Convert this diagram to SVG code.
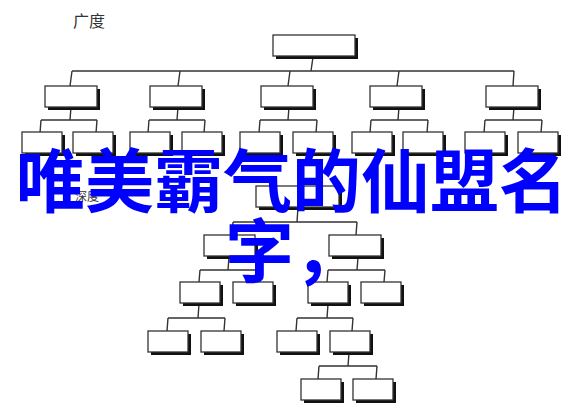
<svg xmlns="http://www.w3.org/2000/svg" width="585" height="411" viewBox="0 0 585 411">
<style>
.sh{fill:#111}
.bx{fill:#fff;stroke:#333;stroke-width:1.3}
.cn path{fill:none;stroke:#333;stroke-width:1.4}
.lbl{font-family:"Noto Sans CJK SC","Noto Sans",sans-serif;fill:#333}
.big{font-family:"Noto Sans CJK SC","Noto Sans",sans-serif;font-weight:bold;font-size:69px;fill:#0000ff}
</style>
<rect width="585" height="411" fill="#fff"/>
<text class="lbl" x="73" y="27" font-size="16">广度</text>
<g class="cn" id="connectors">
<path d="M313 57 L311 71 M72 71 H514 M72 71 L70 86 M180 71 L178 86 M290 71 L288 86 M399 71 L397 86 M514 71 L513 86"/>
<path d="M71 107 L70 120 M41 120 H97 M41 120 L40 133 M97 120 L96 133"/>
<path d="M178 107 L177 120 M149 120 H205 M149 120 L148 133 M205 120 L204 133"/>
<path d="M289 107 L288 120 M260 120 H317 M260 120 L259 133 M317 120 L316 133"/>
<path d="M399 107 L398 120 M371 120 H428 M371 120 L370 133 M428 120 L427 133"/>
<path d="M514 107 L513 120 M485 120 H542 M485 120 L484 133 M542 120 L541 133"/>
<path d="M298 207 L297 222 M233 222 H357 M233 222 L232 235 M357 222 L356 235"/>
<path d="M229 257 L228 270 M200 270 H257 M200 270 L199 282 M257 270 L256 282"/>
<path d="M358 257 L357 270 M328 270 H385 M328 270 L327 282 M385 270 L384 282"/>
<path d="M199 304 L198 318 M168 318 H225 M168 318 L167 331 M225 318 L224 331"/>
<path d="M328 304 L327 318 M297 318 H353 M297 318 L296 331 M353 318 L352 331"/>
<path d="M349 353 L348 366 M319 366 H377 M319 366 L318 379 M377 366 L376 379"/>
</g>
<g id="root"><rect class="sh" x="276" y="38" width="82" height="21"/><rect class="bx" x="273" y="35" width="82" height="21"/></g>
<g id="a"><rect class="sh" x="48" y="89" width="52" height="21"/><rect class="bx" x="45" y="86" width="52" height="21"/></g>
<g id="b"><rect class="sh" x="153" y="89" width="52" height="21"/><rect class="bx" x="150" y="86" width="52" height="21"/></g>
<g id="c"><rect class="sh" x="264" y="89" width="52" height="21"/><rect class="bx" x="261" y="86" width="52" height="21"/></g>
<g id="d"><rect class="sh" x="373" y="89" width="52" height="21"/><rect class="bx" x="370" y="86" width="52" height="21"/></g>
<g id="e"><rect class="sh" x="489" y="89" width="52" height="21"/><rect class="bx" x="486" y="86" width="52" height="21"/></g>
<g id="a1"><rect class="sh" x="25" y="135" width="40" height="21"/><rect class="bx" x="22" y="132" width="40" height="21"/></g>
<g id="a2"><rect class="sh" x="76" y="135" width="40" height="21"/><rect class="bx" x="73" y="132" width="40" height="21"/></g>
<g id="b1"><rect class="sh" x="133" y="135" width="40" height="21"/><rect class="bx" x="130" y="132" width="40" height="21"/></g>
<g id="b2"><rect class="sh" x="185" y="135" width="40" height="21"/><rect class="bx" x="182" y="132" width="40" height="21"/></g>
<g id="c1"><rect class="sh" x="243" y="135" width="40" height="21"/><rect class="bx" x="240" y="132" width="40" height="21"/></g>
<g id="c2"><rect class="sh" x="296" y="135" width="40" height="21"/><rect class="bx" x="293" y="132" width="40" height="21"/></g>
<g id="d1"><rect class="sh" x="355" y="135" width="40" height="21"/><rect class="bx" x="352" y="132" width="40" height="21"/></g>
<g id="d2"><rect class="sh" x="406" y="135" width="40" height="21"/><rect class="bx" x="403" y="132" width="40" height="21"/></g>
<g id="e1"><rect class="sh" x="468" y="135" width="40" height="21"/><rect class="bx" x="465" y="132" width="40" height="21"/></g>
<g id="e2"><rect class="sh" x="521" y="135" width="40" height="21"/><rect class="bx" x="518" y="132" width="40" height="21"/></g>
<g id="root2"><rect class="sh" x="259" y="189" width="83" height="21"/><rect class="bx" x="256" y="186" width="83" height="21"/></g>
<g id="f"><rect class="sh" x="207" y="238" width="51" height="21"/><rect class="bx" x="204" y="235" width="51" height="21"/></g>
<g id="g"><rect class="sh" x="332" y="238" width="52" height="21"/><rect class="bx" x="329" y="235" width="52" height="21"/></g>
<g id="f1"><rect class="sh" x="183" y="285" width="40" height="21"/><rect class="bx" x="180" y="282" width="40" height="21"/></g>
<g id="f2"><rect class="sh" x="236" y="285" width="40" height="21"/><rect class="bx" x="233" y="282" width="40" height="21"/></g>
<g id="g1"><rect class="sh" x="311" y="285" width="40" height="21"/><rect class="bx" x="308" y="282" width="40" height="21"/></g>
<g id="g2"><rect class="sh" x="364" y="285" width="40" height="21"/><rect class="bx" x="361" y="282" width="40" height="21"/></g>
<g id="h1"><rect class="sh" x="151" y="334" width="40" height="21"/><rect class="bx" x="148" y="331" width="40" height="21"/></g>
<g id="h2"><rect class="sh" x="204" y="334" width="40" height="21"/><rect class="bx" x="201" y="331" width="40" height="21"/></g>
<g id="i1"><rect class="sh" x="280" y="334" width="40" height="21"/><rect class="bx" x="277" y="331" width="40" height="21"/></g>
<g id="i2"><rect class="sh" x="333" y="334" width="40" height="21"/><rect class="bx" x="330" y="331" width="40" height="21"/></g>
<g id="j1"><rect class="sh" x="304" y="382" width="40" height="21"/><rect class="bx" x="301" y="379" width="40" height="21"/></g>
<g id="j2"><rect class="sh" x="356" y="382" width="40" height="21"/><rect class="bx" x="353" y="379" width="40" height="21"/></g>
<text class="lbl" x="75" y="201" font-size="12">深度</text>
<text class="big" x="16" y="207">唯美霸气的仙盟名</text>
<text class="big" x="225" y="277">字，</text>
</svg>
